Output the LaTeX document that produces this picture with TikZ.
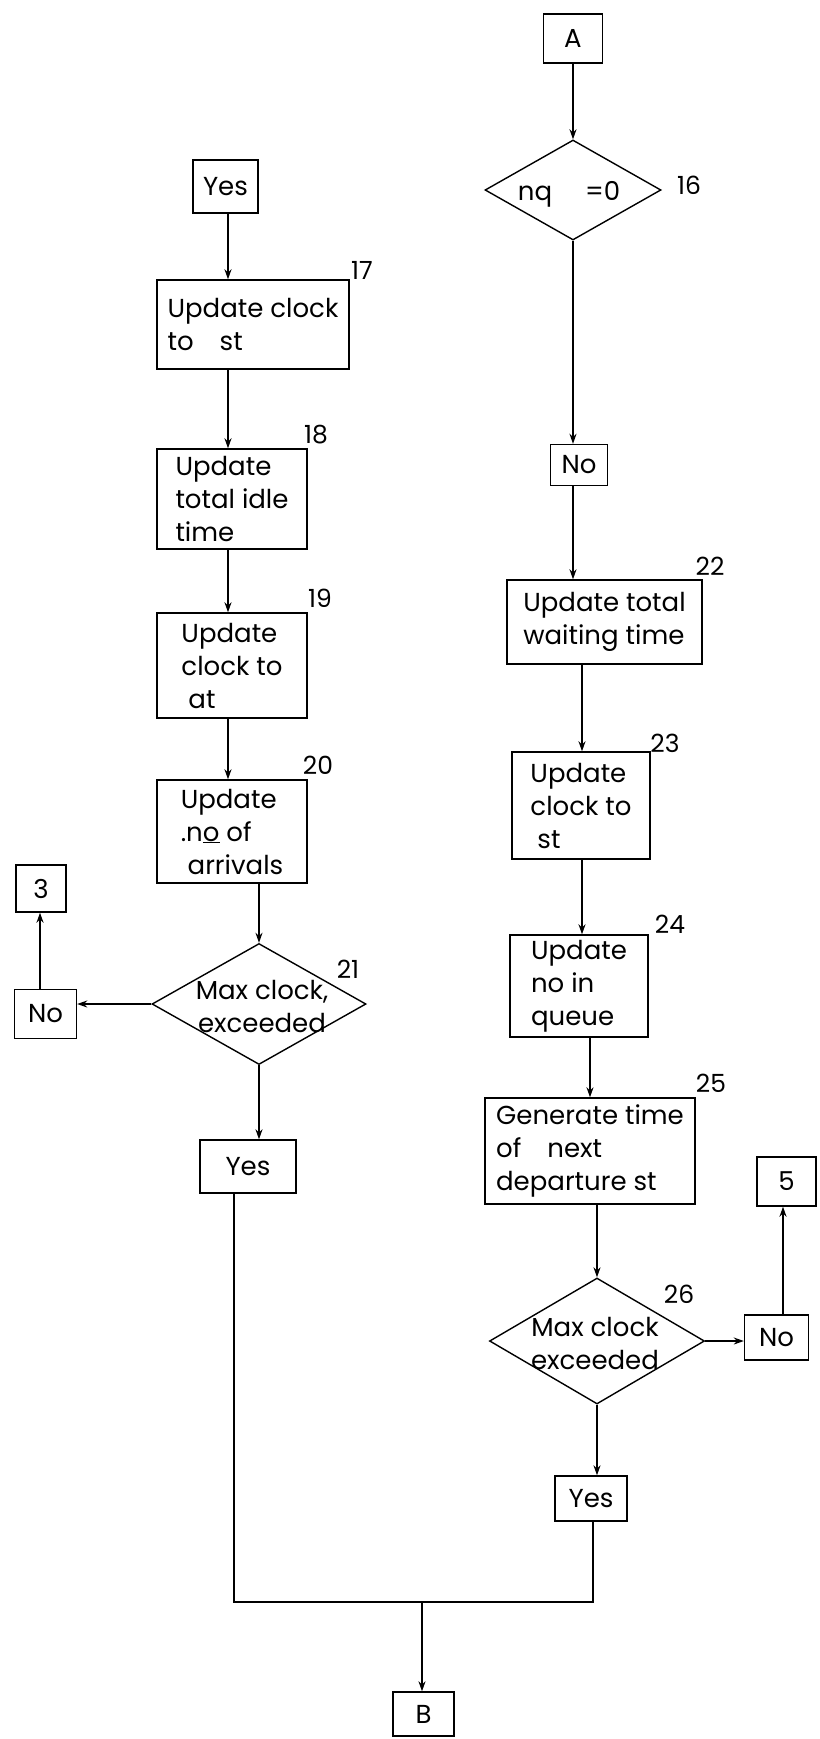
\documentclass[tikz,border=0pt]{standalone}
\usepackage{fontspec}
\setmainfont{Poppins}
\usetikzlibrary{shapes.geometric,arrows.meta}
\begin{document}
\begin{tikzpicture}[x=1pt,y=-1pt,
 box/.style={draw, line width=1.4pt, inner sep=0pt, align=left, font=\fontsize{26}{33}\selectfont},
 dia/.style={draw, diamond, line width=1.4pt, inner sep=0pt},
 num/.style={font=\fontsize{25}{30}\selectfont, inner sep=0pt},
 txt/.style={font=\fontsize{26}{33}\selectfont, align=center, inner sep=0pt},
 arr/.style={line width=1.4pt, -{Stealth[length=10pt,width=7pt]}},
 ln/.style={line width=1.4pt}]
\fill[white] (0,0) rectangle (819,1739);
\useasboundingbox (0,0) rectangle (819,1739);
% column x coordinates
\coordinate (cL) at (228,0);
\coordinate (cL3) at (234,0);
\coordinate (c3) at (40,0);
\coordinate (cR) at (575,0);
\coordinate (cR2) at (582,0);
\coordinate (cR3) at (590,0);
\coordinate (cR5) at (593,0);
\coordinate (c5) at (783,0);
\coordinate (jn) at (422,1602);
% left column
\node[box, minimum width=65pt, minimum height=53pt, align=center] (yesT) at (225.5,186.5) {Yes};
\node[box, minimum width=192pt, minimum height=89pt] (b17) at (253,324.5) {Update clock\\to\quad st};
\node[num] (l17) at (362,270) {17};
\node[box, minimum width=150pt, minimum height=100pt] (b18) at (232,499) {Update\\total idle\\time};
\node[num] (l18) at (316,435) {18};
\node[box, minimum width=150pt, minimum height=105pt] (b19) at (232,665.5) {Update\\clock to\\\ at};
\node[num] (l19) at (320,598) {19};
\node[box, minimum width=150pt, minimum height=103pt] (b20) at (232,831.5) {Update\\.n\underline{o} of\\\ arrivals};
\node[num] (l20) at (318,765) {20};
\node[dia, minimum width=214pt, minimum height=121pt] (d21) at (259,1004) {};
\node[txt] (t21) at (262,1006) {Max clock,\\exceeded};
\node[num] (l21) at (348,969) {21};
\node[box, minimum width=62pt, minimum height=49pt, align=center] (noL) at (45.5,1014) {No};
\node[box, minimum width=50pt, minimum height=47pt, align=center] (n3) at (41,888.5) {3};
\node[box, minimum width=96pt, minimum height=53pt, align=center] (yesL) at (248,1166.5) {Yes};
% right column
\node[box, minimum width=59pt, minimum height=49pt, align=center] (nA) at (573,38.5) {A};
\node[dia, minimum width=176pt, minimum height=100pt] (d16) at (573,190) {};
\node[txt] (t16) at (569,194) {nq\quad\ =0};
\node[num] (l16) at (689,185) {16};
\node[box, minimum width=57pt, minimum height=41pt, align=center] (no16) at (579,465) {No};
\node[box, minimum width=195pt, minimum height=84pt] (b22) at (604.5,622) {Update total\\waiting time};
\node[num] (l22) at (710,566) {22};
\node[box, minimum width=138pt, minimum height=107pt] (b23) at (581,805.5) {Update\\clock to\\\ st};
\node[num] (l23) at (665,743) {23};
\node[box, minimum width=138pt, minimum height=102pt] (b24) at (579,986) {Update\\no in\\queue};
\node[num] (l24) at (670,924) {24};
\node[box, minimum width=210pt, minimum height=106pt] (b25) at (590,1151) {Generate time\\of\quad next\\departure st};
\node[num] (l25) at (711,1083) {25};
\node[dia, minimum width=215pt, minimum height=126pt] (d26) at (597,1341) {};
\node[txt] (t26) at (595,1343) {Max clock\\exceeded};
\node[num] (l26) at (679,1294) {26};
\node[box, minimum width=64pt, minimum height=45pt, align=center] (no26) at (776.5,1337.5) {No};
\node[box, minimum width=59pt, minimum height=49pt, align=center] (n5) at (786.5,1181.5) {5};
\node[box, minimum width=72pt, minimum height=45pt, align=center] (yesR) at (591,1498.5) {Yes};
\node[box, minimum width=61pt, minimum height=44pt, align=center] (nB) at (423.5,1714) {B};
% left connectors
\draw[arr] (yesT.south -| cL) -- (b17.north -| cL);
\draw[arr] (b17.south -| cL) -- (b18.north -| cL);
\draw[arr] (b18.south -| cL) -- (b19.north -| cL);
\draw[arr] (b19.south -| cL) -- (b20.north -| cL);
\draw[arr] (b20.south -| d21.north) -- (d21.north);
\draw[arr] (d21.south) -- (yesL.north -| d21.south);
\draw[arr] (d21.west) -- (noL.east |- d21.west);
\draw[arr] (noL.north -| c3) -- (n3.south -| c3);
\draw[ln] (yesL.south -| cL3) |- (jn);
% right connectors
\draw[arr] (nA.south -| d16.north) -- (d16.north);
\draw[arr] (d16.south) -- (no16.north -| d16.south);
\draw[arr] (no16.south -| d16.south) -- (b22.north -| d16.south);
\draw[arr] (b22.south -| cR2) -- (b23.north -| cR2);
\draw[arr] (b23.south -| cR2) -- (b24.north -| cR2);
\draw[arr] (b24.south -| cR3) -- (b25.north -| cR3);
\draw[arr] (b25.south -| d26.north) -- (d26.north);
\draw[arr] (d26.south) -- (yesR.north -| d26.south);
\draw[arr] (d26.east) -- (no26.west |- d26.east);
\draw[arr] (no26.north -| c5) -- (n5.south -| c5);
\draw[ln] (yesR.south -| cR5) |- (jn);
\draw[arr] (jn) -- (nB.north -| jn);
\end{tikzpicture}
\end{document}
